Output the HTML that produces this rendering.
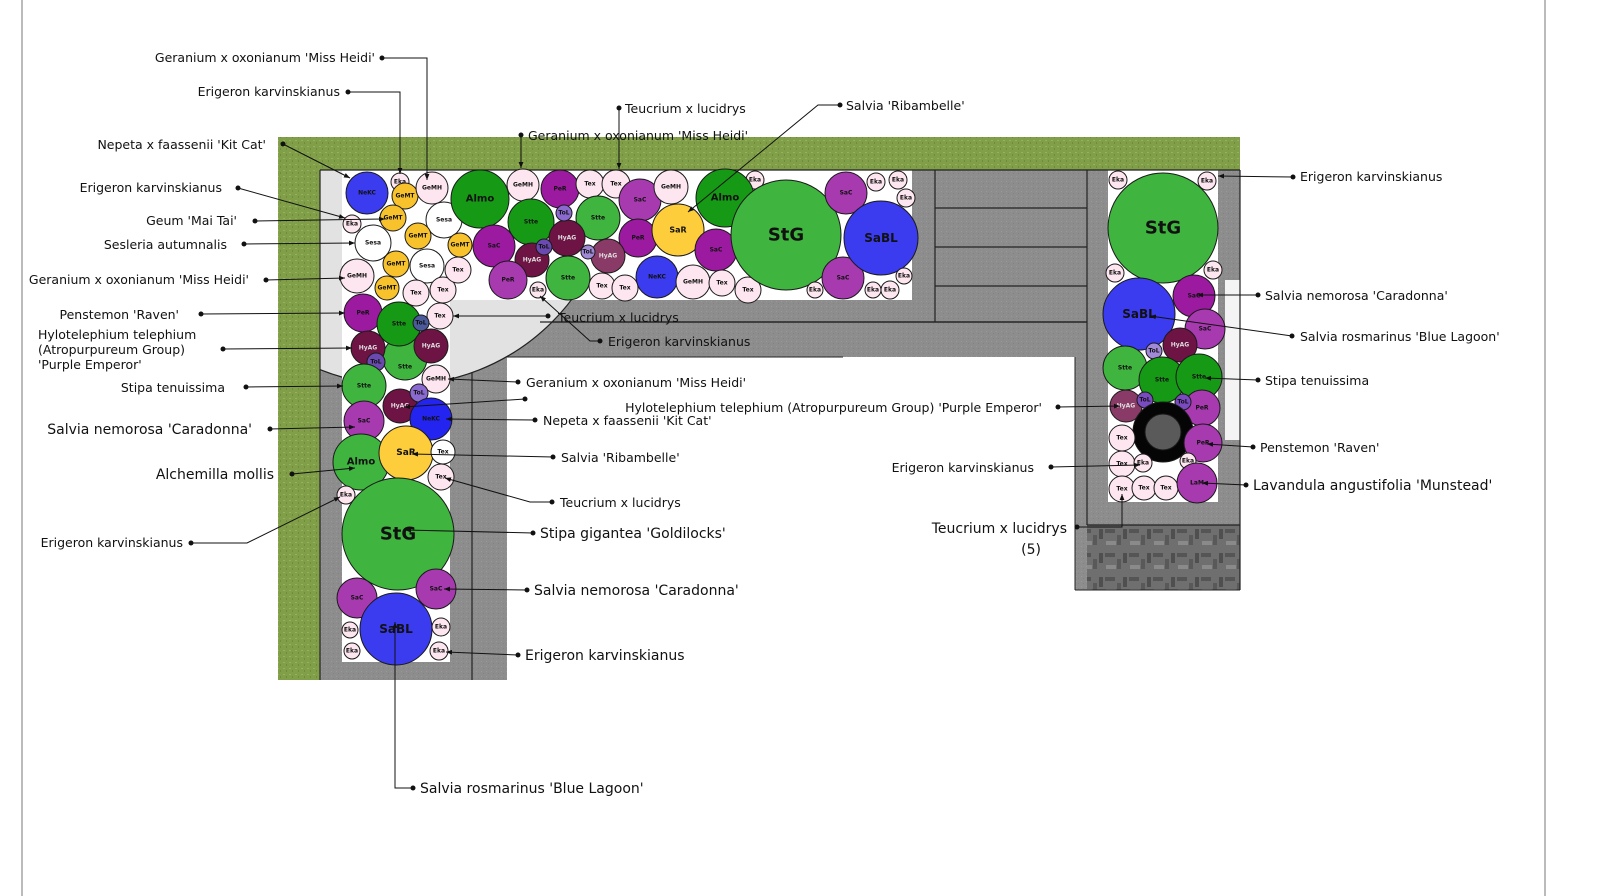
<!DOCTYPE html>
<html><head><meta charset="utf-8"><style>
html,body{margin:0;padding:0;background:#fff}
svg{display:block}
text{font-family:"DejaVu Sans","Liberation Sans",sans-serif;fill:#111}
.l{font-size:12.5px}
.b{font-size:14px}
.c text{font-size:6px;font-weight:bold;text-anchor:middle;dominant-baseline:central}
.c circle{stroke:#1a1a1a;stroke-width:1}
.ld{stroke:#111;stroke-width:1;fill:none}
</style></head><body>
<svg width="1600" height="896" viewBox="0 0 1600 896" xmlns="http://www.w3.org/2000/svg">
<defs>
<marker id="a" viewBox="0 0 10 10" refX="10" refY="5" markerWidth="6" markerHeight="6" orient="auto"><path d="M0,1 L10,5 L0,9z" fill="#111"/></marker>
<pattern id="g" width="6" height="6" patternUnits="userSpaceOnUse"><rect width="6" height="6" fill="#819f48"/><rect x="1" y="2" width="2" height="1" fill="#96b25c"/><rect x="4" y="4" width="1" height="2" fill="#6e8c3a"/></pattern>
<pattern id="p" width="5" height="5" patternUnits="userSpaceOnUse"><rect width="5" height="5" fill="#8d8d8d"/><rect x="1" y="1" width="1" height="1" fill="#999"/><rect x="3" y="3" width="1" height="1" fill="#828282"/></pattern>
<pattern id="h" width="24" height="24" patternUnits="userSpaceOnUse"><rect width="24" height="24" fill="#6f6f6f"/><rect x="1" y="1" width="10" height="4" fill="#555"/><rect x="13" y="7" width="4" height="10" fill="#595959"/><rect x="2" y="13" width="10" height="4" fill="#8a8a8a"/><rect x="19" y="1" width="4" height="10" fill="#4f4f4f"/></pattern>
<clipPath id="cl"><rect x="320" y="170" width="260" height="230"/></clipPath>
</defs>
<line x1="22" y1="0" x2="22" y2="896" stroke="#bbb" stroke-width="2"/>
<line x1="1545" y1="0" x2="1545" y2="896" stroke="#bbb" stroke-width="2"/>
<!-- grass -->
<rect x="278" y="137" width="962" height="33" fill="url(#g)"/>
<rect x="278" y="137" width="42" height="543" fill="url(#g)"/>
<!-- paving -->
<rect x="320" y="170" width="920" height="187" fill="url(#p)"/>
<rect x="320" y="357" width="187" height="323" fill="url(#p)"/>
<rect x="1075" y="170" width="165" height="420" fill="url(#p)"/>
<rect x="1087" y="525" width="153" height="65" fill="url(#h)"/>
<!-- light arc area -->
<g stroke="#222" stroke-width="1.2" fill="none">
<line x1="320" y1="322" x2="1087" y2="322"/>
<line x1="472" y1="357" x2="472" y2="680"/>
</g>
<circle cx="400" cy="170" r="215" fill="#e2e2e2" stroke="#222" stroke-width="1.2" clip-path="url(#cl)"/>
<!-- beds -->
<rect x="342" y="170" width="570" height="130" fill="#fff"/>
<rect x="342" y="300" width="108" height="362" fill="#fff"/>
<rect x="1108" y="170" width="110" height="332" fill="#fff"/>
<rect x="1225" y="280" width="15" height="160" fill="#f4f4f4"/>
<!-- lines -->
<g stroke="#222" stroke-width="1.2" fill="none">
<line x1="320" y1="170" x2="1240" y2="170"/>
<line x1="320" y1="170" x2="320" y2="680"/>
<line x1="540" y1="322" x2="1087" y2="322"/>
<line x1="935" y1="170" x2="935" y2="322"/>
<line x1="935" y1="208" x2="1087" y2="208"/>
<line x1="935" y1="247" x2="1087" y2="247"/>
<line x1="935" y1="286" x2="1087" y2="286"/>
<line x1="1087" y1="170" x2="1087" y2="525"/>
<line x1="1087" y1="525" x2="1240" y2="525"/>
<line x1="1240" y1="170" x2="1240" y2="590"/>
</g>
<rect x="507" y="358" width="568" height="538" fill="#fff"/>
<g stroke="#222"><line x1="507" y1="357" x2="843" y2="357"/><line x1="1075" y1="357" x2="1075" y2="590"/><line x1="1075" y1="590" x2="1240" y2="590"/></g>

<g class="c">
<circle cx="367" cy="193" r="21" fill="#3b3bf0"/><text x="367" y="193">NeKC</text>
<circle cx="400" cy="182" r="9" fill="#fde6ef"/><text x="400" y="182">Eka</text>
<circle cx="405" cy="196" r="13" fill="#f8c22c"/><text x="405" y="196">GeMT</text>
<circle cx="432" cy="188" r="16" fill="#fde6ef"/><text x="432" y="188">GeMH</text>
<circle cx="352" cy="224" r="9" fill="#fde6ef"/><text x="352" y="224">Eka</text>
<circle cx="393" cy="218" r="13" fill="#f8c22c"/><text x="393" y="218">GeMT</text>
<circle cx="444" cy="220" r="18" fill="#fff"/><text x="444" y="220">Sesa</text>
<circle cx="373" cy="243" r="18" fill="#fff"/><text x="373" y="243">Sesa</text>
<circle cx="418" cy="236" r="13" fill="#f8c22c"/><text x="418" y="236">GeMT</text>
<circle cx="460" cy="245" r="12" fill="#f8c22c"/><text x="460" y="245">GeMT</text>
<circle cx="396" cy="264" r="13" fill="#f8c22c"/><text x="396" y="264">GeMT</text>
<circle cx="427" cy="266" r="17" fill="#fff"/><text x="427" y="266">Sesa</text>
<circle cx="357" cy="276" r="17" fill="#fde6ef"/><text x="357" y="276">GeMH</text>
<circle cx="387" cy="288" r="12" fill="#f8c22c"/><text x="387" y="288">GeMT</text>
<circle cx="416" cy="293" r="13" fill="#fde6ef"/><text x="416" y="293">Tex</text>
<circle cx="443" cy="290" r="13" fill="#fde6ef"/><text x="443" y="290">Tex</text>
<circle cx="458" cy="270" r="13" fill="#fde6ef"/><text x="458" y="270">Tex</text>
<circle cx="480" cy="199" r="29" fill="#169a16"/><text x="480" y="199" style="font-size:10px">Almo</text>
<circle cx="523" cy="185" r="16" fill="#fde6ef"/><text x="523" y="185">GeMH</text>
<circle cx="560" cy="189" r="19" fill="#9c1aa0"/><text x="560" y="189">PeR</text>
<circle cx="590" cy="184" r="14" fill="#fde6ef"/><text x="590" y="184">Tex</text>
<circle cx="616" cy="184" r="14" fill="#fde6ef"/><text x="616" y="184">Tex</text>
<circle cx="640" cy="200" r="21" fill="#a83ab0"/><text x="640" y="200">SaC</text>
<circle cx="671" cy="187" r="17" fill="#fde6ef"/><text x="671" y="187">GeMH</text>
<circle cx="755" cy="180" r="9" fill="#fde6ef"/><text x="755" y="180">Eka</text>
<circle cx="531" cy="222" r="23" fill="#169a16"/><text x="531" y="222">Stte</text>
<circle cx="598" cy="218" r="22" fill="#3fb43f"/><text x="598" y="218">Stte</text>
<circle cx="494" cy="246" r="21" fill="#9c1aa0"/><text x="494" y="246">SaC</text>
<circle cx="638" cy="238" r="19" fill="#9c1aa0"/><text x="638" y="238">PeR</text>
<circle cx="678" cy="230" r="26" fill="#fdcd3c"/><text x="678" y="230" style="font-size:8px">SaR</text>
<circle cx="567" cy="238" r="18" fill="#6e1444"/><text x="567" y="238" style="fill:#ddd">HyAG</text>
<circle cx="564" cy="213" r="8" fill="#8a6ad0"/><text x="564" y="213">ToL</text>
<circle cx="532" cy="260" r="17" fill="#6e1444"/><text x="532" y="260" style="fill:#ddd">HyAG</text>
<circle cx="544" cy="247" r="8" fill="#6a4ab0"/><text x="544" y="247">ToL</text>
<circle cx="608" cy="256" r="17" fill="#8a3a66"/><text x="608" y="256" style="fill:#ddd">HyAG</text>
<circle cx="588" cy="252" r="7" fill="#a08ad8"/><text x="588" y="252">ToL</text>
<circle cx="508" cy="280" r="19" fill="#a83ab0"/><text x="508" y="280">PeR</text>
<circle cx="568" cy="278" r="22" fill="#3fb43f"/><text x="568" y="278">Stte</text>
<circle cx="716" cy="250" r="21" fill="#9c1aa0"/><text x="716" y="250">SaC</text>
<circle cx="657" cy="277" r="21" fill="#3b3bf0"/><text x="657" y="277">NeKC</text>
<circle cx="693" cy="282" r="17" fill="#fde6ef"/><text x="693" y="282">GeMH</text>
<circle cx="538" cy="290" r="8" fill="#fde6ef"/><text x="538" y="290">Eka</text>
<circle cx="602" cy="286" r="13" fill="#fde6ef"/><text x="602" y="286">Tex</text>
<circle cx="625" cy="288" r="13" fill="#fde6ef"/><text x="625" y="288">Tex</text>
<circle cx="722" cy="283" r="13" fill="#fde6ef"/><text x="722" y="283">Tex</text>
<circle cx="748" cy="290" r="13" fill="#fde6ef"/><text x="748" y="290">Tex</text>
<circle cx="725" cy="198" r="29" fill="#169a16"/><text x="725" y="198" style="font-size:10px">Almo</text>
<circle cx="786" cy="235" r="55" fill="#3fb43f"/><text x="786" y="235" style="font-size:18px">StG</text>
<circle cx="815" cy="290" r="8" fill="#fde6ef"/><text x="815" y="290">Eka</text>
<circle cx="846" cy="193" r="21" fill="#a83ab0"/><text x="846" y="193">SaC</text>
<circle cx="843" cy="278" r="21" fill="#a83ab0"/><text x="843" y="278">SaC</text>
<circle cx="881" cy="238" r="37" fill="#3b3bf0"/><text x="881" y="238" style="font-size:12px">SaBL</text>
<circle cx="876" cy="182" r="9" fill="#fde6ef"/><text x="876" y="182">Eka</text>
<circle cx="898" cy="180" r="9" fill="#fde6ef"/><text x="898" y="180">Eka</text>
<circle cx="906" cy="198" r="9" fill="#fde6ef"/><text x="906" y="198">Eka</text>
<circle cx="873" cy="290" r="8" fill="#fde6ef"/><text x="873" y="290">Eka</text>
<circle cx="890" cy="290" r="9" fill="#fde6ef"/><text x="890" y="290">Eka</text>
<circle cx="904" cy="276" r="8" fill="#fde6ef"/><text x="904" y="276">Eka</text>
<circle cx="363" cy="313" r="19" fill="#9c1aa0"/><text x="363" y="313">PeR</text>
<circle cx="440" cy="316" r="13" fill="#fde6ef"/><text x="440" y="316">Tex</text>
<circle cx="405" cy="358" r="22" fill="#3fb43f"/><text x="405" y="367">Stte</text>
<circle cx="399" cy="324" r="22" fill="#169a16"/><text x="399" y="324">Stte</text>
<circle cx="421" cy="323" r="8" fill="#4a5a9a"/><text x="421" y="323">ToL</text>
<circle cx="368" cy="348" r="17" fill="#6e1444"/><text x="368" y="348" style="fill:#ddd">HyAG</text>
<circle cx="431" cy="346" r="17" fill="#6e1444"/><text x="431" y="346" style="fill:#ddd">HyAG</text>
<circle cx="376" cy="362" r="9" fill="#6a4ab0"/><text x="376" y="362">ToL</text>
<circle cx="364" cy="386" r="22" fill="#3fb43f"/><text x="364" y="386">Stte</text>
<circle cx="436" cy="379" r="14" fill="#fde6ef"/><text x="436" y="379">GeMH</text>
<circle cx="400" cy="406" r="17" fill="#6e1444"/><text x="400" y="406" style="fill:#ddd">HyAG</text>
<circle cx="419" cy="393" r="9" fill="#8a6ad0"/><text x="419" y="393">ToL</text>
<circle cx="431" cy="419" r="21" fill="#2424f0"/><text x="431" y="419">NeKC</text>
<circle cx="364" cy="421" r="20" fill="#a83ab0"/><text x="364" y="421">SaC</text>
<circle cx="361" cy="462" r="28" fill="#3fb43f"/><text x="361" y="462" style="font-size:10px">Almo</text>
<circle cx="406" cy="453" r="27" fill="#fdcd3c"/><text x="406" y="453" style="font-size:9px">SaR</text>
<circle cx="443" cy="452" r="12" fill="#fff"/><text x="443" y="452">Tex</text>
<circle cx="441" cy="477" r="13" fill="#fde6ef"/><text x="441" y="477">Tex</text>
<circle cx="346" cy="495" r="9" fill="#fde6ef"/><text x="346" y="495">Eka</text>
<circle cx="398" cy="534" r="56" fill="#3fb43f"/><text x="398" y="534" style="font-size:18px">StG</text>
<circle cx="357" cy="598" r="20" fill="#a83ab0"/><text x="357" y="598">SaC</text>
<circle cx="436" cy="589" r="20" fill="#a83ab0"/><text x="436" y="589">SaC</text>
<circle cx="396" cy="629" r="36" fill="#3b3bf0"/><text x="396" y="629" style="font-size:12px">SaBL</text>
<circle cx="350" cy="630" r="8" fill="#fde6ef"/><text x="350" y="630">Eka</text>
<circle cx="352" cy="651" r="8" fill="#fde6ef"/><text x="352" y="651">Eka</text>
<circle cx="441" cy="627" r="9" fill="#fde6ef"/><text x="441" y="627">Eka</text>
<circle cx="439" cy="651" r="9" fill="#fde6ef"/><text x="439" y="651">Eka</text>
<circle cx="1118" cy="180" r="9" fill="#fde6ef"/><text x="1118" y="180">Eka</text>
<circle cx="1207" cy="181" r="9" fill="#fde6ef"/><text x="1207" y="181">Eka</text>
<circle cx="1163" cy="228" r="55" fill="#3fb43f"/><text x="1163" y="228" style="font-size:18px">StG</text>
<circle cx="1115" cy="273" r="9" fill="#fde6ef"/><text x="1115" y="273">Eka</text>
<circle cx="1213" cy="270" r="9" fill="#fde6ef"/><text x="1213" y="270">Eka</text>
<circle cx="1139" cy="314" r="36" fill="#3b3bf0"/><text x="1139" y="314" style="font-size:12px">SaBL</text>
<circle cx="1194" cy="296" r="21" fill="#9c1aa0"/><text x="1194" y="296">SaC</text>
<circle cx="1205" cy="329" r="20" fill="#a83ab0"/><text x="1205" y="329">SaC</text>
<circle cx="1180" cy="345" r="17" fill="#6e1444"/><text x="1180" y="345" style="fill:#ddd">HyAG</text>
<circle cx="1154" cy="351" r="8" fill="#a08ad8"/><text x="1154" y="351">ToL</text>
<circle cx="1125" cy="368" r="22" fill="#3fb43f"/><text x="1125" y="368">Stte</text>
<circle cx="1162" cy="380" r="23" fill="#169a16"/><text x="1162" y="380">Stte</text>
<circle cx="1199" cy="377" r="23" fill="#169a16"/><text x="1199" y="377">Stte</text>
<circle cx="1202" cy="408" r="18" fill="#a83ab0"/><text x="1202" y="408">PeR</text>
<circle cx="1126" cy="406" r="16" fill="#8a3a66"/><text x="1126" y="406" style="fill:#ddd">HyAG</text>
<circle cx="1145" cy="400" r="8" fill="#7a4ac0"/><text x="1145" y="400">ToL</text>
<circle cx="1183" cy="402" r="8" fill="#7a4ac0"/><text x="1183" y="402">ToL</text>
<circle cx="1163" cy="432" r="30" fill="#050505"/>
<circle cx="1163" cy="432" r="18" fill="#5a5a5a" stroke="#333"/>
<circle cx="1122" cy="438" r="13" fill="#fde6ef"/><text x="1122" y="438">Tex</text>
<circle cx="1203" cy="443" r="19" fill="#a83ab0"/><text x="1203" y="443">PeR</text>
<circle cx="1122" cy="464" r="13" fill="#fde6ef"/><text x="1122" y="464">Tex</text>
<circle cx="1143" cy="463" r="9" fill="#fde6ef"/><text x="1143" y="463">Eka</text>
<circle cx="1188" cy="461" r="8" fill="#fde6ef"/><text x="1188" y="461">Eka</text>
<circle cx="1122" cy="489" r="13" fill="#fde6ef"/><text x="1122" y="489">Tex</text>
<circle cx="1144" cy="488" r="12" fill="#fde6ef"/><text x="1144" y="488">Tex</text>
<circle cx="1166" cy="488" r="12" fill="#fde6ef"/><text x="1166" y="488">Tex</text>
<circle cx="1197" cy="483" r="20" fill="#a83ab0"/><text x="1197" y="483">LaM</text>
</g>

<g class="ld" marker-end="url(#a)">
<path d="M382,58 H427 V180"/>
<path d="M348,92 H400 V174"/>
<path d="M619,108 V169"/>
<path d="M840,105 H818 L688,212"/>
<path d="M521,135 V168"/>
<path d="M283,144 L350,178"/>
<path d="M238,188 L345,218"/>
<path d="M255,221 L385,219"/>
<path d="M244,244 L355,243"/>
<path d="M266,280 L345,278"/>
<path d="M201,314 L345,313"/>
<path d="M223,349 L352,348"/>
<path d="M246,387 L343,386"/>
<path d="M270,429 L355,427"/>
<path d="M292,474 L355,468"/>
<path d="M191,543 H247 L340,497"/>
<path d="M413,788 H395 V622"/>
<path d="M548,316 H453"/>
<path d="M600,341 H590 L540,296"/>
<path d="M518,382 L448,379"/>
<path d="M525,399 L404,407"/>
<path d="M535,420 L446,419"/>
<path d="M553,457 L412,454"/>
<path d="M552,502 H530 L445,478"/>
<path d="M533,533 L405,530"/>
<path d="M527,590 L444,589"/>
<path d="M518,655 L446,652"/>
<path d="M1293,177 L1218,176"/>
<path d="M1258,295 L1197,295"/>
<path d="M1292,336 L1150,316"/>
<path d="M1258,380 L1205,378"/>
<path d="M1058,407 L1120,406"/>
<path d="M1253,447 L1207,444"/>
<path d="M1051,467 L1140,465"/>
<path d="M1246,485 L1202,483"/>
<path d="M1077,527 H1122 V494"/>
</g>
<g fill="#111">
<circle cx="382" cy="58" r="2.5"/><circle cx="348" cy="92" r="2.5"/><circle cx="619" cy="108" r="2.5"/><circle cx="840" cy="105" r="2.5"/><circle cx="521" cy="135" r="2.5"/><circle cx="283" cy="144" r="2.5"/><circle cx="238" cy="188" r="2.5"/><circle cx="255" cy="221" r="2.5"/><circle cx="244" cy="244" r="2.5"/><circle cx="266" cy="280" r="2.5"/><circle cx="201" cy="314" r="2.5"/><circle cx="223" cy="349" r="2.5"/><circle cx="246" cy="387" r="2.5"/><circle cx="270" cy="429" r="2.5"/><circle cx="292" cy="474" r="2.5"/><circle cx="191" cy="543" r="2.5"/><circle cx="413" cy="788" r="2.5"/><circle cx="548" cy="316" r="2.5"/><circle cx="600" cy="341" r="2.5"/><circle cx="518" cy="382" r="2.5"/><circle cx="525" cy="399" r="2.5"/><circle cx="535" cy="420" r="2.5"/><circle cx="553" cy="457" r="2.5"/><circle cx="552" cy="502" r="2.5"/><circle cx="533" cy="533" r="2.5"/><circle cx="527" cy="590" r="2.5"/><circle cx="518" cy="655" r="2.5"/><circle cx="1293" cy="177" r="2.5"/><circle cx="1258" cy="295" r="2.5"/><circle cx="1292" cy="336" r="2.5"/><circle cx="1258" cy="380" r="2.5"/><circle cx="1058" cy="407" r="2.5"/><circle cx="1253" cy="447" r="2.5"/><circle cx="1051" cy="467" r="2.5"/><circle cx="1246" cy="485" r="2.5"/><circle cx="1077" cy="527" r="2.5"/>
</g>

<g class="l">
<text x="375" y="62" text-anchor="end">Geranium x oxonianum 'Miss Heidi'</text>
<text x="340" y="96" text-anchor="end">Erigeron karvinskianus</text>
<text x="625" y="113">Teucrium x lucidrys</text>
<text x="846" y="110">Salvia 'Ribambelle'</text>
<text x="528" y="140">Geranium x oxonianum 'Miss Heidi'</text>
<text x="266" y="149" text-anchor="end">Nepeta x faassenii 'Kit Cat'</text>
<text x="222" y="192" text-anchor="end">Erigeron karvinskianus</text>
<text x="237" y="225" text-anchor="end">Geum 'Mai Tai'</text>
<text x="227" y="249" text-anchor="end">Sesleria autumnalis</text>
<text x="249" y="284" text-anchor="end">Geranium x oxonianum 'Miss Heidi'</text>
<text x="179" y="319" text-anchor="end">Penstemon 'Raven'</text>
<text x="38" y="339">Hylotelephium telephium</text>
<text x="38" y="354">(Atropurpureum Group)</text>
<text x="38" y="369">'Purple Emperor'</text>
<text x="225" y="392" text-anchor="end">Stipa tenuissima</text>
<text x="183" y="547" text-anchor="end">Erigeron karvinskianus</text>
<text x="558" y="322">Teucrium x lucidrys</text>
<text x="608" y="346">Erigeron karvinskianus</text>
<text x="526" y="387">Geranium x oxonianum 'Miss Heidi'</text>
<text x="543" y="425">Nepeta x faassenii 'Kit Cat'</text>
<text x="561" y="462">Salvia 'Ribambelle'</text>
<text x="560" y="507">Teucrium x lucidrys</text>
<text x="1300" y="181">Erigeron karvinskianus</text>
<text x="1265" y="300">Salvia nemorosa 'Caradonna'</text>
<text x="1300" y="341">Salvia rosmarinus 'Blue Lagoon'</text>
<text x="1265" y="385">Stipa tenuissima</text>
<text x="1042" y="412" text-anchor="end">Hylotelephium telephium (Atropurpureum Group) 'Purple Emperor'</text>
<text x="1260" y="452">Penstemon 'Raven'</text>
<text x="1034" y="472" text-anchor="end">Erigeron karvinskianus</text>
</g>
<g class="b">
<text x="252" y="434" text-anchor="end">Salvia nemorosa 'Caradonna'</text>
<text x="274" y="479" text-anchor="end">Alchemilla mollis</text>
<text x="420" y="793">Salvia rosmarinus 'Blue Lagoon'</text>
<text x="540" y="538">Stipa gigantea 'Goldilocks'</text>
<text x="534" y="595">Salvia nemorosa 'Caradonna'</text>
<text x="525" y="660">Erigeron karvinskianus</text>
<text x="1253" y="490">Lavandula angustifolia 'Munstead'</text>
<text x="1067" y="533" text-anchor="end">Teucrium x lucidrys</text>
<text x="1041" y="554" text-anchor="end">(5)</text>
</g>
</svg>
</body></html>
